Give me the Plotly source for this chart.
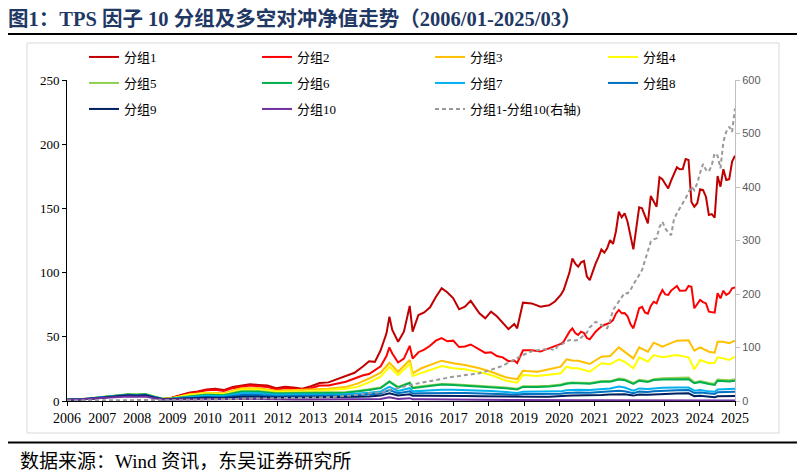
import plotly.graph_objects as go
import numpy as np

# ---- data (monthly net values) ----
# dense month grid for 分组1, 分组2 and the long-short line
months_fine = """
2006-01 2006-04 2006-07 2006-10 2007-01 2007-04 2007-07 2007-10 2008-01 2008-04 2008-07 2008-10
2009-01 2009-04 2009-07 2009-10 2010-01 2010-04 2010-07 2010-10 2011-01 2011-04 2011-07 2011-10
2012-01 2012-04 2012-07 2012-10 2013-01 2013-04 2013-07 2013-10 2014-01 2014-04
2014-07 2014-09 2014-11 2015-01 2015-03 2015-04 2015-05 2015-07 2015-09 2015-11 2015-12 2016-02
2016-04 2016-06 2016-08 2016-10 2016-12 2017-02 2017-04 2017-06 2017-08 2017-11 2018-01 2018-03
2018-05 2018-07 2018-09 2018-11 2018-12 2019-02 2019-05 2019-08 2019-11
2020-01 2020-02 2020-03 2020-04 2020-05 2020-06 2020-07 2020-08 2020-09 2020-10 2020-11 2020-12
2021-01 2021-02 2021-03 2021-04 2021-05 2021-06 2021-07 2021-08 2021-09 2021-10 2021-11 2021-12
2022-01 2022-02 2022-03 2022-04 2022-05 2022-06 2022-07 2022-08 2022-09 2022-10 2022-11 2022-12
2023-01 2023-02 2023-03 2023-04 2023-05 2023-06 2023-07 2023-08 2023-09 2023-10 2023-11 2023-12
2024-01 2024-02 2024-03 2024-04 2024-05 2024-06 2024-07 2024-08 2024-09 2024-10 2024-11 2024-12
2025-01 2025-02 2025-03
""".split()

g1 = [1.0, 1.2, 1.5, 2.0, 3.0, 3.8, 4.3, 4.5, 4.0, 4.6, 3.0, 1.5,
      2.5, 4.5, 6.5, 7.5, 9.0, 9.5, 8.5, 11.0, 12.0, 13.0, 12.5, 12.0,
      10.0, 11.0, 10.5, 9.5, 11.5, 14.0, 14.5, 17.0, 19.5, 22.0,
      27.0, 31.0, 30.5, 39.5, 52.7, 65.6, 55.3, 46.2, 54.0, 74.0, 54.0, 67.0,
      69.0, 73.0, 81.0, 87.8, 84.5, 80.0, 71.4, 73.4, 78.0, 68.3, 64.4, 69.6,
      66.0, 61.0, 56.0, 60.0, 56.6, 76.6, 76.0, 73.5, 74.5,
      77.5, 80.0, 82.6, 86.4, 92.9, 100.0, 111.0, 107.0, 104.6, 108.0, 109.0, 97.0,
      94.2, 101.0, 107.0, 112.0, 118.0, 115.5, 119.0, 125.4, 122.3, 132.0, 147.4, 143.0,
      146.2, 139.6, 128.0, 118.1, 134.5, 150.8, 150.0, 144.0, 138.4, 159.7, 156.0, 151.3,
      174.2, 172.7, 169.0, 165.6, 171.6, 177.0, 182.0, 180.5, 180.7, 188.5, 187.7, 155.0,
      151.3, 154.0, 164.9, 164.3, 159.1, 144.9, 145.6, 142.8, 175.2, 166.9, 180.5, 172.1,
      172.7, 186.4, 191.0]

g2 = [1.0, 1.2, 1.5, 2.0, 3.0, 3.8, 4.2, 4.5, 4.0, 4.6, 3.0, 1.5,
      2.4, 4.2, 6.0, 7.0, 8.3, 8.8, 7.8, 10.0, 11.0, 12.0, 11.5, 11.0,
      9.0, 10.0, 9.5, 8.8, 10.0, 12.0, 12.0, 13.5, 15.0, 17.5,
      20.0, 21.0, 24.0, 27.0, 35.0, 41.8, 37.0, 30.0, 33.0, 43.0, 33.0, 38.0,
      40.0, 43.0, 47.0, 49.0, 46.5, 47.0, 42.0, 42.5, 44.0, 40.0, 37.5, 38.0,
      35.0, 34.0, 31.0, 31.5, 29.5, 39.5, 39.5, 38.5, 41.0,
      43.0, 44.0, 44.4, 46.2, 50.0, 54.0, 56.6, 53.0, 51.4, 54.0, 53.0, 49.0,
      48.0, 51.0, 54.0, 56.0, 58.0, 59.2, 60.0, 61.0, 63.0, 68.0, 70.9, 68.3,
      68.5, 66.0, 60.0, 56.6, 64.0, 72.2, 73.4, 69.0, 68.0, 74.0, 77.3, 76.0,
      82.0, 86.4, 83.0, 82.6, 86.0, 88.0, 89.6, 85.9, 86.0, 86.0, 89.6, 89.0,
      72.2, 76.0, 78.7, 77.0, 76.0, 69.6, 69.0, 68.8, 83.9, 80.0, 85.9, 82.6,
      84.0, 87.8, 88.5]

long_short = [1.0, 1.2, 1.3, 1.5, 1.8, 2.0, 2.0, 2.0, 1.8, 2.0, 1.8, 1.5,
              1.8, 2.2, 2.8, 3.0, 3.5, 3.8, 3.8, 4.5, 5.0, 5.5, 5.5, 5.5,
              5.0, 5.5, 5.5, 5.5, 6.0, 6.5, 7.0, 8.0, 9.0, 11.0,
              13.0, 14.5, 15.5, 16.0, 18.0, 20.6, 22.0, 24.0, 27.0, 30.0, 31.0, 33.0,
              35.0, 38.0, 40.0, 42.4, 44.0, 45.5, 46.7, 48.0, 50.0, 52.0, 55.0, 58.0,
              62.0, 66.0, 72.0, 78.0, 81.0, 86.0, 93.0, 96.0, 98.0,
              95.0, 103.0, 104.7, 108.0, 112.0, 114.0, 114.0, 113.0, 114.0, 118.0, 123.0, 128.0,
              138.0, 142.0, 148.0, 146.0, 142.0, 138.0, 136.0, 150.0, 170.0, 178.0, 185.6, 195.0,
              202.0, 201.0, 207.0, 218.0, 228.0, 235.5, 245.0, 262.0, 280.0, 297.8, 302.0, 304.0,
              325.0, 335.0, 322.6, 315.0, 310.0, 340.0, 351.0, 360.0, 369.5, 379.0, 390.0, 400.6,
              394.0, 407.0, 426.7, 443.0, 432.0, 428.6, 441.0, 463.0, 458.5, 435.0, 484.7, 503.4,
              512.7, 503.0, 547.0]

# coarser month grid for 分组3 ... 分组10
months_coarse = """
2006-01 2006-07 2007-01 2007-07 2007-10 2008-01 2008-04 2008-07 2008-10 2009-01
2009-07 2010-01 2010-07 2011-01 2011-07 2012-01 2012-07 2013-01 2013-07 2014-01
2014-05 2014-09 2015-01 2015-04 2015-07 2015-11 2015-12 2016-03 2016-07 2016-10
2017-02 2017-06 2017-11 2018-03 2018-08 2018-12 2019-02 2019-07 2019-11 2020-03
2020-05 2020-07 2020-09 2021-01 2021-05 2021-08 2021-11 2022-01 2022-04 2022-06
2022-09 2022-11 2023-02 2023-07 2023-11 2024-01 2024-03 2024-06 2024-08 2024-09
2024-11 2025-01 2025-03
""".split()

g3 = [1.0, 1.5, 3.0, 4.4, 4.8, 4.4, 5.0, 3.2, 1.6, 2.2,
      5.0, 6.5, 6.0, 10.0, 10.0, 8.0, 8.5, 8.5, 9.5, 11.0,
      13.5, 17.5, 22.0, 29.8, 22.8, 31.9, 21.6, 25.5, 28.8, 31.4,
      29.4, 28.0, 25.5, 22.8, 18.5, 17.0, 23.5, 22.8, 24.7, 26.7,
      32.5, 31.5, 31.4, 28.8, 34.5, 35.0, 41.8, 38.4, 33.2, 41.8,
      38.4, 45.4, 42.3, 47.0, 47.3, 39.2, 41.8, 38.4, 37.6, 46.2,
      46.2, 45.0, 47.0]
g4 = [1.0, 1.6, 3.2, 4.8, 5.3, 5.0, 5.5, 3.5, 1.7, 2.2,
      4.8, 6.0, 5.5, 9.0, 9.0, 7.2, 7.5, 7.5, 8.5, 9.5,
      11.0, 14.5, 19.0, 26.7, 20.2, 28.8, 19.5, 22.0, 25.0, 27.3,
      25.5, 24.7, 22.5, 20.2, 16.0, 14.3, 20.2, 19.5, 20.5, 21.6,
      26.7, 25.5, 25.5, 22.8, 29.4, 28.6, 32.5, 30.6, 25.5, 34.0,
      30.6, 35.8, 34.0, 35.8, 34.0, 24.7, 31.9, 29.4, 29.8, 34.0,
      33.2, 31.9, 34.5]
g5 = [1.0, 1.6, 3.2, 4.8, 5.3, 5.0, 5.4, 3.5, 1.7, 2.0,
      3.8, 5.0, 4.6, 7.8, 7.8, 6.2, 6.4, 6.3, 6.8, 7.0,
      7.8, 9.0, 10.5, 15.5, 11.0, 14.5, 10.5, 11.5, 12.5, 13.3,
      13.0, 12.5, 12.0, 11.5, 10.5, 9.5, 11.5, 11.5, 11.8, 12.8,
      14.0, 14.5, 14.3, 14.0, 15.5, 15.5, 17.5, 17.0, 14.0, 16.5,
      15.5, 17.0, 17.8, 18.0, 18.2, 14.5, 15.5, 14.0, 13.5, 16.8,
      16.5, 16.2, 17.0]
g6 = [1.0, 1.5, 3.0, 4.6, 5.0, 4.8, 5.2, 3.3, 1.6, 2.0,
      3.6, 4.8, 4.4, 7.3, 7.3, 5.8, 6.0, 5.9, 6.3, 6.5,
      7.3, 8.5, 10.0, 15.0, 10.5, 14.0, 10.0, 11.0, 12.0, 12.8,
      12.5, 12.0, 11.5, 11.0, 10.0, 9.0, 11.0, 11.0, 11.2, 12.3,
      13.5, 14.0, 13.8, 13.5, 15.0, 15.0, 16.8, 16.2, 13.3, 15.8,
      14.8, 16.3, 16.8, 17.0, 17.0, 13.8, 14.8, 13.3, 12.5, 15.8,
      15.5, 15.2, 15.8]
g7 = [1.0, 1.5, 2.9, 4.3, 4.8, 4.5, 4.9, 3.1, 1.5, 1.8,
      3.0, 4.0, 3.7, 6.0, 6.0, 4.8, 5.0, 4.9, 5.1, 5.3,
      5.8, 6.5, 7.5, 11.0, 7.8, 10.0, 7.5, 8.0, 8.5, 8.8,
      8.7, 8.5, 8.0, 7.8, 7.0, 6.3, 7.3, 7.3, 7.3, 7.5,
      8.3, 8.8, 8.8, 8.5, 9.5, 9.8, 11.2, 10.5, 8.0, 9.8,
      9.3, 9.9, 10.3, 10.5, 10.6, 8.0, 8.6, 7.5, 7.2, 9.0,
      9.3, 9.2, 9.6]
g8 = [1.0, 1.4, 2.7, 4.0, 4.5, 4.2, 4.6, 2.9, 1.4, 1.6,
      2.5, 3.2, 3.0, 4.6, 4.6, 3.7, 3.8, 3.8, 4.0, 4.2,
      4.5, 5.0, 5.8, 8.6, 6.0, 7.5, 5.8, 6.0, 6.2, 6.4,
      6.3, 6.2, 6.0, 5.8, 5.2, 4.8, 5.5, 5.5, 5.4, 5.6,
      6.2, 6.6, 6.6, 6.4, 7.0, 7.3, 8.0, 7.6, 6.0, 7.3,
      7.0, 7.5, 8.0, 8.4, 8.6, 6.2, 6.6, 5.6, 5.4, 6.8,
      7.0, 7.0, 7.3]
g9 = [1.0, 1.4, 2.6, 3.9, 4.4, 4.1, 4.5, 2.8, 1.3, 1.5,
      2.0, 2.6, 2.4, 3.4, 3.4, 2.7, 2.8, 2.8, 3.0, 3.1,
      3.3, 3.6, 4.2, 6.0, 4.3, 5.2, 4.0, 4.0, 4.1, 4.1,
      4.0, 3.9, 3.7, 3.6, 3.2, 3.0, 3.4, 3.4, 3.4, 3.5,
      4.0, 4.3, 4.3, 4.2, 4.7, 5.0, 5.4, 5.2, 4.2, 5.0,
      4.8, 5.1, 5.5, 5.8, 6.0, 3.8, 4.0, 3.2, 2.9, 3.7,
      3.8, 3.7, 3.9]
g10 = [1.0, 1.3, 2.3, 3.3, 3.6, 3.3, 3.5, 2.2, 1.1, 1.1,
       1.3, 1.4, 1.3, 1.6, 1.5, 1.2, 1.2, 1.2, 1.2, 1.2,
       1.2, 1.3, 1.5, 2.9, 1.6, 2.2, 1.4, 1.3, 1.2, 1.2,
       1.1, 1.0, 0.9, 0.8, 0.6, 0.5, 0.5, 0.5, 0.5, 0.5,
       0.5, 0.5, 0.5, 0.5, 0.5, 0.5, 0.5, 0.45, 0.4, 0.4,
       0.4, 0.4, 0.4, 0.4, 0.4, 0.35, 0.35, 0.3, 0.3, 0.35,
       0.35, 0.35, 0.35]

year_labels = ["2006", "2007", "2008", "2009", "2010", "2011", "2012", "2013", "2014", "2015",
               "2016", "2017", "2018", "2019", "2020", "2021", "2022", "2023", "2024", "2025"]


# month string -> position on the category-like x axis (0 = 2006-01)
def month_pos(m):
    y, mo = m.split("-")
    return (int(y) - 2006) * 12 + int(mo) - 1


x_fine = [month_pos(m) for m in months_fine]
x_coarse = [month_pos(m) for m in months_coarse]
last = month_pos(months_fine[-1])

# the html page keeps its default 8px body margin, so the figure is drawn
# 8px smaller and everything is placed relative to the plot area (67..735 x 80..401
# in the screenshot)
W, H = 797, 468


def px_x(p):
    return (p - 67) / 668


def px_y(p):
    return (401 - p) / 321


SERIF = "Liberation Serif, Noto Sans CJK SC, serif"

fig = go.Figure()

series = [
    ("分组1", x_fine, g1, "#C00000", "legend"),
    ("分组2", x_fine, g2, "#FF0000", "legend"),
    ("分组3", x_coarse, g3, "#FFC000", "legend"),
    ("分组4", x_coarse, g4, "#FFFF00", "legend"),
    ("分组5", x_coarse, g5, "#92D050", "legend2"),
    ("分组6", x_coarse, g6, "#00B050", "legend2"),
    ("分组7", x_coarse, g7, "#00B0F0", "legend2"),
    ("分组8", x_coarse, g8, "#0070C0", "legend2"),
    ("分组9", x_coarse, g9, "#002060", "legend3"),
    ("分组10", x_coarse, g10, "#7030A0", "legend3"),
]
for i, (name, xs, ys, color, leg) in enumerate(series):
    fig.add_trace(go.Scatter(x=xs, y=ys, mode="lines", name=name,
                             line=dict(color=color, width=2),
                             legend=leg, legendwidth=128 if i % 4 != 3 else 60))

# long-short on the right axis
fig.add_trace(go.Scatter(x=x_fine, y=long_short, mode="lines", name="分组1-分组10(右轴)",
                         line=dict(color="#999999", width=2, dash="4px,3px"),
                         yaxis="y2", legend="legend3", legendwidth=160))

legend_common = dict(orientation="h", xanchor="left", yanchor="middle", x=px_x(84),
                     bgcolor="rgba(0,0,0,0)", font=dict(family=SERIF, size=13, color="#000000"))

fig.update_layout(
    width=W, height=H,
    margin=dict(l=59, r=70, t=72, b=75),
    paper_bgcolor="white", plot_bgcolor="white",
    title=dict(text="<b>图1：TPS 因子 10 分组及多空对冲净值走势（2006/01-2025/03）</b>",
               x=0, xanchor="left", xref="container",
               y=1 - 11 / H, yanchor="middle", yref="container",
               font=dict(family=SERIF, size=20.5, color="#1F3864")),
    xaxis=dict(range=[0, last], tickvals=list(np.linspace(0, last, len(year_labels))),
               ticktext=year_labels, showgrid=False, zeroline=False,
               showline=True, linecolor="#000000", linewidth=1,
               ticks="outside", ticklen=4, tickcolor="#000000",
               tickfont=dict(family=SERIF, size=14, color="#000000")),
    yaxis=dict(range=[0, 250], dtick=50, showgrid=False, zeroline=False,
               showline=True, linecolor="#000000", linewidth=1,
               ticks="outside", ticklen=4, tickcolor="#000000",
               tickfont=dict(family=SERIF, size=13, color="#000000")),
    yaxis2=dict(range=[0, 600], dtick=100, overlaying="y", side="right",
                showgrid=False, zeroline=False,
                showline=True, linecolor="#BFBFBF", linewidth=1,
                ticks="outside", ticklen=4, tickcolor="#BFBFBF",
                tickfont=dict(family="Liberation Sans, sans-serif", size=11, color="#595959")),
    legend=dict(y=px_y(57), **legend_common),
    legend2=dict(y=px_y(83), **legend_common),
    legend3=dict(y=px_y(109), **legend_common),
    showlegend=True,
)

# chart frame and the two heavy rules of the report layout
fig.add_shape(type="rect", xref="paper", yref="paper",
              x0=px_x(27), x1=px_x(779), y0=px_y(433), y1=px_y(43),
              line=dict(color="#D9D9D9", width=1), layer="below")
fig.add_shape(type="line", xref="paper", yref="paper",
              x0=px_x(5), x1=px_x(801), y0=px_y(34), y1=px_y(34),
              line=dict(color="#000000", width=2))
fig.add_shape(type="line", xref="paper", yref="paper",
              x0=px_x(5), x1=px_x(801), y0=px_y(442.5), y1=px_y(442.5),
              line=dict(color="#000000", width=2))

fig.add_annotation(text="数据来源：Wind 资讯，东吴证券研究所", xref="paper", yref="paper",
                   x=px_x(18), y=px_y(462), xanchor="left", yanchor="middle",
                   showarrow=False, font=dict(family=SERIF, size=19, color="#000000"))

fig.write_html("out.html")
